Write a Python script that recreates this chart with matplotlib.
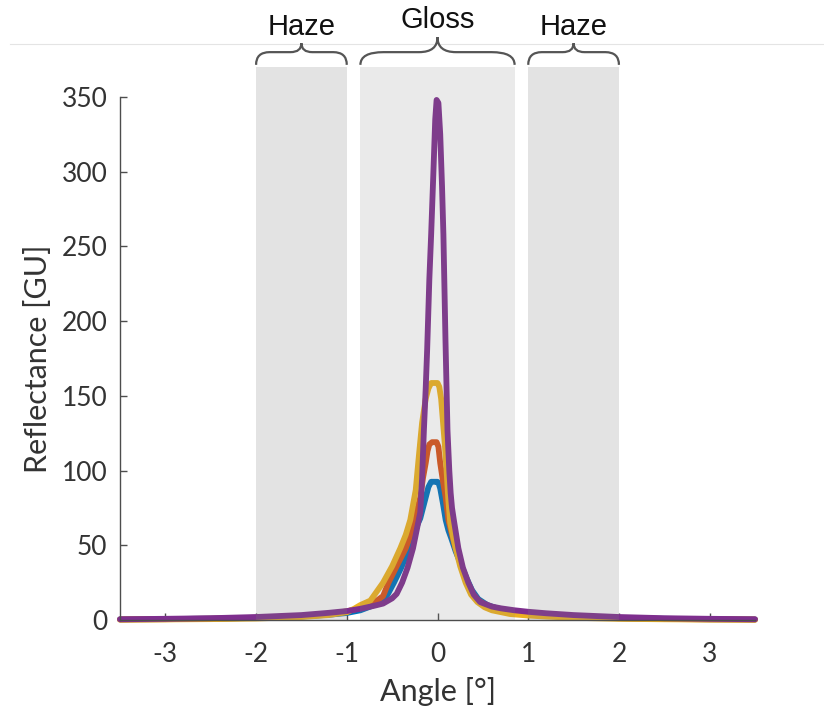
import numpy as np
import matplotlib
matplotlib.use('Agg')
import matplotlib.pyplot as plt
from matplotlib.path import Path
from matplotlib.patches import PathPatch
from matplotlib.lines import Line2D

plt.rcParams['axes.unicode_minus'] = False

# curves (angle in degrees, reflectance in GU)
blue_x = [-3.5, -3, -2.5, -2, -1.5, -1.2, -1.0, -0.85, -0.74, -0.63, -0.55, -0.48, -0.4, -0.31, -0.25,
          -0.22, -0.19, -0.16, -0.13, -0.1, -0.07, 0.0, 0.015, 0.03, 0.06, 0.09, 0.12, 0.15, 0.2, 0.26,
          0.32, 0.38, 0.45, 0.55, 0.7, 0.85, 1.0, 1.2, 1.5, 2, 2.5, 3, 3.5]
blue_y = [0.4, 0.6, 0.9, 1.4, 2.4, 3.5, 4.7, 6.5, 9, 12, 17, 25, 35, 48, 58,
          64, 68, 75, 82, 89, 92.5, 92.5, 91, 88, 78, 67, 60, 55, 46, 37,
          28, 20, 14, 10, 7, 5.5, 4.5, 3.4, 2.3, 1.3, 0.8, 0.5, 0.35]

orange_x = [-3.5, -3, -2.5, -2, -1.5, -1.2, -1.0, -0.85, -0.69, -0.6, -0.54, -0.45, -0.35, -0.28, -0.24,
            -0.19, -0.16, -0.13, -0.11, -0.09, -0.06, -0.01, 0.01, 0.03, 0.06, 0.09, 0.12, 0.16, 0.2, 0.26,
            0.31, 0.38, 0.45, 0.55, 0.7, 0.85, 1.0, 1.2, 1.5, 2, 2.5, 3, 3.5]
orange_y = [0.35, 0.55, 0.9, 1.5, 2.7, 4, 5.8, 8, 12, 16, 25, 36, 48, 60, 70,
            82, 95, 105, 113, 117.5, 119, 119, 116, 105, 93, 82, 67, 57, 48, 37,
            27, 18, 13, 9.5, 7, 5.3, 4.2, 3.2, 2.1, 1.2, 0.7, 0.45, 0.3]

yellow_x = [-3.5, -3, -2.5, -2, -1.5, -1.2, -1.0, -0.92, -0.85, -0.74, -0.6, -0.5, -0.41, -0.35, -0.3,
            -0.27, -0.24, -0.205, -0.17, -0.13, -0.1, -0.07, 0.0, 0.02, 0.04, 0.06, 0.08, 0.1, 0.12, 0.14,
            0.17, 0.2, 0.25, 0.31, 0.37, 0.44, 0.52, 0.6, 0.8, 1.0, 1.2, 1.5, 2, 2.5, 3, 3.5]
yellow_y = [0.25, 0.4, 0.6, 1.0, 2.0, 3.3, 5.2, 7.5, 10, 13, 25, 36, 48, 57, 67,
            77, 87, 110, 132, 148, 155, 158.6, 158.6, 156, 148, 133, 118, 100, 80, 65,
            56, 48, 36, 25, 17, 12, 8.5, 6.5, 4, 3, 2.3, 1.5, 0.8, 0.5, 0.3, 0.2]

purple_x = [-3.5, -3, -2.5, -2, -1.5, -1.2, -1.0, -0.85, -0.7, -0.6, -0.5, -0.45, -0.39, -0.33, -0.27,
            -0.23, -0.21, -0.19, -0.17, -0.15, -0.13, -0.114, -0.09, -0.07, -0.045, -0.025, -0.01, 0.01, 0.03, 0.05,
            0.065, 0.088, 0.11, 0.13, 0.145, 0.16, 0.18, 0.23, 0.28, 0.34, 0.4, 0.47, 0.6, 0.7, 0.85,
            1.0, 1.2, 1.5, 2, 2.5, 3, 3.5]
purple_y = [0.5, 0.8, 1.2, 2.0, 3.3, 4.8, 6.0, 7.5, 9.5, 11, 14.5, 17.5, 25, 35, 48,
            60, 66, 72, 95, 127, 155, 181, 228, 258, 300, 335, 348, 346, 325, 290,
            258, 187, 127, 100, 85, 75, 67, 48, 35, 25, 17, 12, 9, 7.8, 6.5,
            5.5, 4.5, 3.3, 2, 1.2, 0.8, 0.5]

series = [(blue_x, blue_y, '#0072BD'),
          (orange_x, orange_y, '#D95319'),
          (yellow_x, yellow_y, '#EDB120'),
          (purple_x, purple_y, '#7E2F8E')]

# shaded regions: (start, end, alpha, label)
regions = [(-2, -1, 0.22, 'Haze'), (-0.85, 0.85, 0.16, 'Gloss'), (1, 2, 0.22, 'Haze')]
band_top = 370

fig = plt.figure(figsize=(8.24, 7.12), dpi=100)
ax = fig.add_axes([0.1456, 0.1292, 0.7707, 0.7346])

for xs, ys, c in series:
    ax.plot(xs, ys, color=c, lw=4.2, clip_on=False, zorder=2,
            solid_capstyle='round', solid_joinstyle='round')


def brace(x0, x1, ybase, ymid, ytip):
    d = x1 - x0
    xm = (x0 + x1) / 2
    verts = [(x0, ybase), (x0, ymid), (x0 + 0.15 * d, ymid),
             (xm - 0.12 * d, ymid),
             (xm, ymid), (xm, ytip),
             (xm, ymid), (xm + 0.12 * d, ymid),
             (x1 - 0.15 * d, ymid),
             (x1, ymid), (x1, ybase)]
    codes = [Path.MOVETO, Path.CURVE3, Path.CURVE3, Path.LINETO,
             Path.CURVE3, Path.CURVE3, Path.CURVE3, Path.CURVE3,
             Path.LINETO, Path.CURVE3, Path.CURVE3]
    p = PathPatch(Path(verts, codes), fill=False, edgecolor='#555555', lw=1.6, clip_on=False)
    ax.add_patch(p)


for x0, x1, a, lab in regions:
    ax.fill_between([x0, x1], 0, band_top, color='#808080', alpha=a, lw=0, zorder=3, clip_on=False)
    if lab == 'Gloss':
        brace(x0, x1, 371.5, 380, 390)
        ax.text((x0 + x1) / 2, 396, lab, ha='center', va='baseline', fontsize=21,
                family='Liberation Sans', color='#111111', clip_on=False)
    else:
        brace(x0, x1, 371.5, 380, 386)
        ax.text((x0 + x1) / 2, 391.5, lab, ha='center', va='baseline', fontsize=21,
                family='Liberation Sans', color='#111111', clip_on=False)

ax.set_xlim(-3.5, 3.5)
ax.set_ylim(0, 350)
ax.set_xticks([-3, -2, -1, 0, 1, 2, 3])
ax.set_yticks(np.arange(0, 351, 50))
ax.spines['top'].set_visible(False)
ax.spines['right'].set_visible(False)
for s in ['left', 'bottom']:
    ax.spines[s].set_color('#4d4d4d')
    ax.spines[s].set_linewidth(1.0)
ax.tick_params(direction='in', length=5, width=1, color='#4d4d4d', labelcolor='#333333')
ax.tick_params(axis='x', pad=16)
ax.tick_params(axis='y', pad=9)
for t in ax.get_xticklabels() + ax.get_yticklabels():
    t.set_family('Lato')
    t.set_fontsize(19)

ax.set_xlabel('Angle [°]', fontsize=22, family='Lato', color='#333333', labelpad=7)
ax.set_ylabel('Reflectance [GU]', fontsize=22, family='Lato', color='#333333', labelpad=7)

# faint rule across the top of the picture
fig.add_artist(Line2D([0.012, 1.0], [1 - 44 / 712, 1 - 44 / 712], transform=fig.transFigure,
                      color='#e4e4e4', lw=0.8, zorder=0))

fig.savefig('out.png', dpi=100)
